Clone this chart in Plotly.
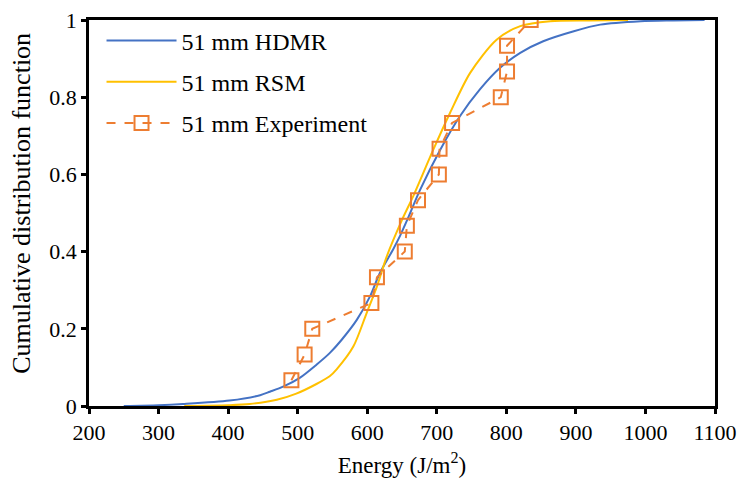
import plotly.graph_objects as go

# HDMR CDF curve
hdmr_energy = [250, 300, 335, 402, 446, 460, 479, 503, 527, 546, 563, 585, 604, 618, 637, 647, 657, 676, 705, 733, 762, 791, 820, 853, 897, 935, 993, 1040, 1085]
hdmr_cdf = [0, 0.002, 0.005, 0.014, 0.028, 0.037, 0.05, 0.073, 0.107, 0.137, 0.171, 0.223, 0.284, 0.344, 0.405, 0.44, 0.48, 0.56, 0.664, 0.75, 0.82, 0.876, 0.915, 0.945, 0.971, 0.988, 0.997, 0.999, 1.0]

# RSM CDF curve
rsm_energy = [337, 400, 431, 470, 498, 527, 546, 556, 580, 599, 614, 628, 650, 666, 695, 719, 748, 786, 820, 863, 920, 975]
rsm_cdf = [0, 0.002, 0.005, 0.016, 0.032, 0.057, 0.077, 0.095, 0.154, 0.24, 0.31, 0.387, 0.482, 0.543, 0.664, 0.759, 0.863, 0.949, 0.984, 0.997, 0.999, 1.0]

# Experiment points
exp_energy = [491, 510, 521, 606, 614, 654, 657, 673, 703, 704, 722, 792, 801, 801, 835]
exp_cdf = [0.0667, 0.1333, 0.2, 0.2667, 0.3333, 0.4, 0.4667, 0.5333, 0.6, 0.6667, 0.7333, 0.8, 0.8667, 0.9333, 1.0]

x_ticks = [200, 300, 400, 500, 600, 700, 800, 900, 1000, 1100]
y_ticks = [0, 0.2, 0.4, 0.6, 0.8, 1]

FONT = "Liberation Serif, Times New Roman, serif"

fig = go.Figure()
fig.add_trace(go.Scatter(x=hdmr_energy, y=hdmr_cdf, mode="lines", name="51 mm HDMR",
                         line=dict(color="#4472C4", width=2, shape="spline", smoothing=0.8), legendgroup="a"))
fig.add_trace(go.Scatter(x=rsm_energy, y=rsm_cdf, mode="lines", name="51 mm RSM",
                         line=dict(color="#FFC000", width=2, shape="spline", smoothing=0.8), legendgroup="b"))
fig.add_trace(go.Scatter(x=exp_energy, y=exp_cdf, mode="lines+markers", name="51 mm Experiment",
                         line=dict(color="#ED7D31", width=2, dash="dash"),
                         marker=dict(symbol="square-open", size=14, color="#ED7D31", line=dict(width=2)),
                         legendgroup="c"))

axis_common = dict(showline=True, linecolor="black", linewidth=2.5, mirror=True,
                   ticks="outside", ticklen=5, tickwidth=2.5, tickcolor="black",
                   showgrid=False, zeroline=False, automargin=False,
                   tickfont=dict(family=FONT, size=22, color="black"))

fig.update_xaxes(range=[200, 1100], tickvals=x_ticks, ticktext=[str(v) for v in x_ticks],
                 title=dict(text="Energy (J/m<sup>2</sup>)", font=dict(family=FONT, size=23, color="black"), standoff=13),
                 **axis_common)
fig.update_yaxes(range=[0, 1], tickvals=y_ticks, ticktext=["0", "0.2", "0.4", "0.6", "0.8", "1"],
                 **axis_common)

fig.add_annotation(text="Cumulative distribution function", xref="paper", yref="paper",
                   x=-0.107, y=0.524, xanchor="center", yanchor="middle", textangle=-90,
                   showarrow=False, font=dict(family=FONT, size=26, color="black"))

fig.update_layout(
    width=741, height=486,
    margin=dict(l=89, r=26, t=20, b=80),
    plot_bgcolor="white", paper_bgcolor="white",
    font=dict(family=FONT, size=22, color="black"),
    legend=dict(x=0.02, y=1.004, xanchor="left", yanchor="top", bgcolor="rgba(0,0,0,0)",
                tracegroupgap=7, itemwidth=70, font=dict(family=FONT, size=24, color="black")),
    showlegend=True,
)

fig.write_html("out.html")
